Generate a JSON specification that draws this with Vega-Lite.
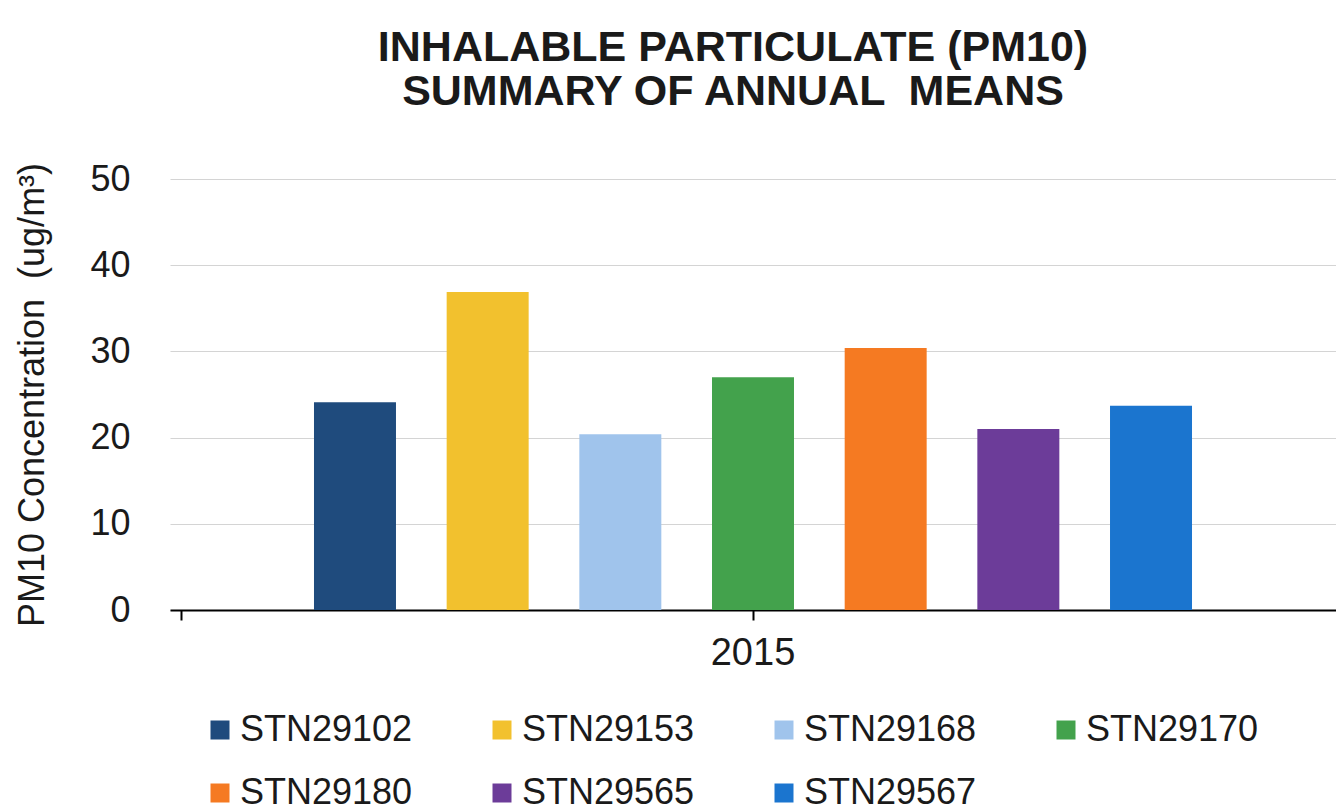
{
  "$schema": "https://vega.github.io/schema/vega-lite/v6.json",
  "autosize": "none",
  "width": 1166,
  "height": 431,
  "padding": {"left": 170, "top": 179, "right": 0, "bottom": 202},
  "background": "white",
  "config": {
    "font": "Liberation Sans",
    "view": {"stroke": null},
    "axis": {"labelFont": "Liberation Sans", "titleFont": "Liberation Sans", "labelColor": "#1a1a1a", "titleColor": "#1a1a1a"},
    "legend": {"labelFont": "Liberation Sans"}
  },
  "title": {
    "text": ["INHALABLE PARTICULATE (PM10)", "SUMMARY OF ANNUAL \u00a0MEANS"],
    "fontSize": 43,
    "fontWeight": "bold",
    "color": "#1a1a1a",
    "lineHeight": 44,
    "frame": "group",
    "anchor": "middle",
    "offset": 47,
    "dx": -20
  },
  "data": {
    "values": [
      {"year": "2015", "station": "STN29102", "pm10": 24.1},
      {"year": "2015", "station": "STN29153", "pm10": 36.9},
      {"year": "2015", "station": "STN29168", "pm10": 20.4},
      {"year": "2015", "station": "STN29170", "pm10": 27.0},
      {"year": "2015", "station": "STN29180", "pm10": 30.4},
      {"year": "2015", "station": "STN29565", "pm10": 21.0},
      {"year": "2015", "station": "STN29567", "pm10": 23.7}
    ]
  },
  "mark": {"type": "bar"},
  "encoding": {
    "x": {
      "field": "year",
      "type": "nominal",
      "scale": {"paddingInner": 0, "paddingOuter": 0.0099},
      "axis": {
        "title": null,
        "labelAngle": 0,
        "labelFontSize": 38,
        "labelPadding": 14,
        "domainColor": "#000000",
        "domainWidth": 2,
        "tickColor": "#000000",
        "tickWidth": 2,
        "tickSize": 10,
        "bandPosition": 0.5,
        "tickExtra": true,
        "grid": false
      }
    },
    "xOffset": {
      "field": "station",
      "type": "nominal",
      "scale": {"paddingInner": 0.382, "paddingOuter": 1}
    },
    "y": {
      "field": "pm10",
      "type": "quantitative",
      "scale": {"domain": [0, 50], "nice": false},
      "axis": {
        "values": [0, 10, 20, 30, 40, 50],
        "title": "PM10 Concentration \u00a0(ug/m³)",
        "titleFontSize": 36,
        "titleFontWeight": "normal",
        "titlePadding": 38,
        "labelFontSize": 36,
        "labelPadding": 40,
        "ticks": false,
        "domain": false,
        "grid": true,
        "gridColor": "#d4d4d4",
        "gridWidth": 1.2
      }
    },
    "color": {
      "field": "station",
      "type": "nominal",
      "scale": {
        "domain": ["STN29102", "STN29153", "STN29168", "STN29170", "STN29180", "STN29565", "STN29567"],
        "range": ["#1f4b7d", "#f2c12e", "#a0c4ec", "#43a24c", "#f57a22", "#6c3c99", "#1b75cf"]
      },
      "legend": {
        "title": null,
        "orient": "none",
        "legendX": 32,
        "legendY": 533,
        "direction": "horizontal",
        "columns": 4,
        "padding": 0,
        "symbolType": "square",
        "symbolSize": 361,
        "symbolStrokeWidth": 0,
        "labelFontSize": 36,
        "labelLimit": 0,
        "labelColor": "#1a1a1a",
        "labelOffset": 2,
        "columnPadding": 71,
        "rowPadding": 27
      }
    }
  }
}
